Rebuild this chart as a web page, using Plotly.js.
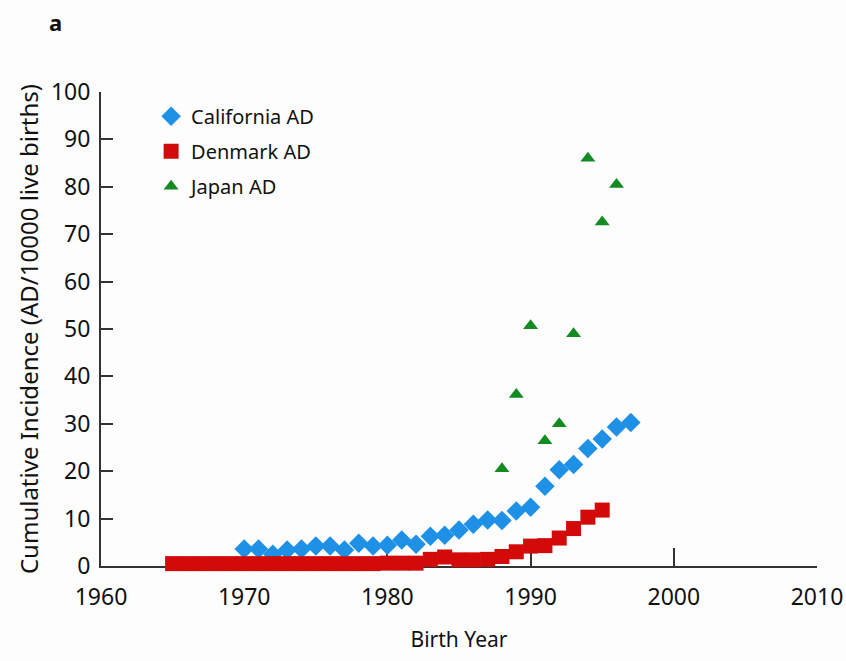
<!DOCTYPE html>
<html>
<head>
<meta charset="utf-8">
<script src="https://cdn.plot.ly/plotly-3.0.1.min.js"></script>
<style>html,body{margin:0;padding:0;background:#fdfdfd;}</style>
</head>
<body>
<div id="chart" style="width:846px;height:661px;"></div>
<script>
const caYears = [1970,1971,1972,1973,1974,1975,1976,1977,1978,1979,1980,1981,1982,1983,1984,1985,1986,1987,1988,1989,1990,1991,1992,1993,1994,1995,1996,1997];
const caValues = [3.6,3.6,2.5,3.4,3.6,4.2,4.2,3.4,4.8,4.2,4.4,5.5,4.6,6.3,6.5,7.6,8.8,9.7,9.6,11.6,12.4,16.8,20.3,21.4,24.8,26.8,29.3,30.3];
const dkYears = [1965,1966,1967,1968,1969,1970,1971,1972,1973,1974,1975,1976,1977,1978,1979,1980,1981,1982,1983,1984,1985,1986,1987,1988,1989,1990,1991,1992,1993,1994,1995];
const dkValues = [0.5,0.5,0.5,0.5,0.5,0.5,0.5,0.5,0.5,0.5,0.5,0.5,0.5,0.5,0.5,0.6,0.6,0.6,1.4,1.9,1.3,1.3,1.4,2.0,3.0,4.2,4.3,5.9,7.9,10.3,11.8];
const jpYears = [1988,1989,1990,1991,1992,1993,1994,1995,1996];
const jpValues = [20.5,36.2,50.7,26.4,30.0,49.0,86.0,72.6,80.5];
const xTicks = [1960,1970,1980,1990,2000,2010];
const yTicks = [0,10,20,30,40,50,60,70,80,90,100];

const FONT = 'Noto Sans, sans-serif';
const traces = [
  {x: caYears, y: caValues, name: 'California AD', legendgroup: 'ca', mode: 'markers', type: 'scatter', cliponaxis: false,
   marker: {symbol: 'diamond', size: 15, color: '#1e90e6'}},
  {x: dkYears, y: dkValues, name: 'Denmark AD', legendgroup: 'dk', mode: 'markers', type: 'scatter', cliponaxis: false,
   marker: {symbol: 'square', size: 15, color: '#d20a0a'}},
  {x: jpYears, y: jpValues, name: 'Japan AD', legendgroup: 'jp', mode: 'markers', type: 'scatter', cliponaxis: false,
   marker: {symbol: 'triangle-up', size: 13, color: '#138a22'}}
];
const layout = {
  width: 846, height: 661,
  paper_bgcolor: '#fdfdfd', plot_bgcolor: '#fdfdfd',
  margin: {l: 101, r: 29, t: 92, b: 95},
  font: {family: FONT, color: '#111', size: 20},
  showlegend: true,
  legend: {x: 0.07, y: 0.99, xanchor: 'left', yanchor: 'top', bgcolor: 'rgba(0,0,0,0)',
           traceorder: 'grouped', tracegroupgap: 6,
           font: {family: FONT, size: 20, color: '#111'}},
  xaxis: {range: [1960, 2010], tickvals: xTicks, ticktext: xTicks.map(String),
          showgrid: false, zeroline: false, showline: true, linecolor: '#333', linewidth: 2,
          ticks: 'inside', ticklen: 18, tickwidth: 2, tickcolor: '#333', layer: 'below traces',
          ticklabelstandoff: 9,
          tickfont: {family: FONT, size: 23, color: '#111'},
          title: {text: 'Birth Year', font: {family: FONT, size: 21, color: '#111'}, standoff: 22}},
  yaxis: {range: [0, 100], tickvals: yTicks, ticktext: yTicks.map(String),
          showgrid: false, zeroline: false, showline: true, linecolor: '#333', linewidth: 2,
          ticks: 'inside', ticklen: 12, tickwidth: 2, tickcolor: '#333', layer: 'below traces',
          ticklabelstandoff: 4,
          tickfont: {family: FONT, size: 23, color: '#111'},
          title: {text: 'Cumulative Incidence (AD/10000 live births)', font: {family: FONT, size: 24, color: '#111'}, standoff: 6}},
  annotations: [{text: '<b>a</b>', xref: 'paper', yref: 'paper', x: -0.064, y: 1.148,
                 showarrow: false, xanchor: 'center', yanchor: 'middle', font: {family: FONT, size: 22, color: '#111'}}]
};
Plotly.newPlot('chart', traces, layout, {displayModeBar: false});
</script>
</body>
</html>
